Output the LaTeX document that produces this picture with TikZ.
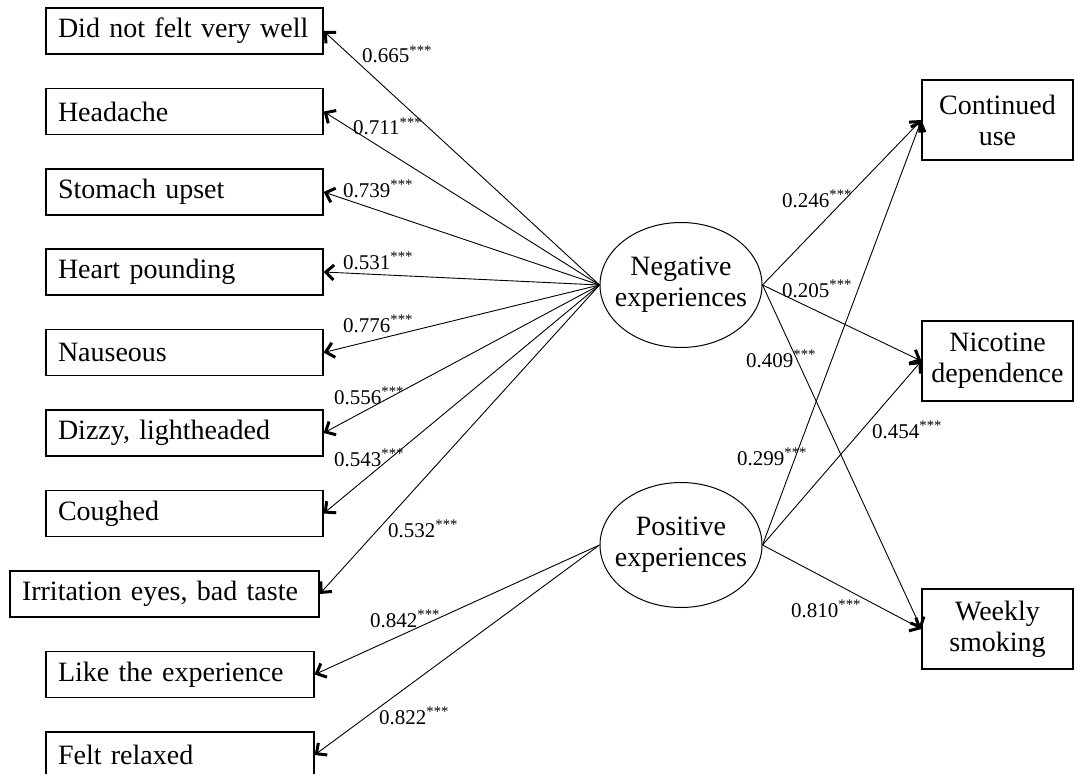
\documentclass[tikz,border=0pt]{standalone}
\usepackage{fontspec}
\setmainfont{Liberation Serif}
\usetikzlibrary{arrows.meta,shapes.geometric}
\tikzset{
  ibox/.style={draw,line width=1.2pt,rectangle,minimum height=46pt,inner xsep=12pt,inner ysep=0pt,
    font=\fontsize{28}{30}\selectfont,align=left},
  obox/.style={draw,line width=1.2pt,rectangle,minimum height=80pt,minimum width=151pt,inner sep=0pt,
    font=\fontsize{28}{31}\selectfont,align=center},
  latent/.style={draw,line width=1pt,ellipse,minimum width=162pt,minimum height=125pt,inner sep=0pt},
  lattext/.style={font=\fontsize{28}{31}\selectfont,align=center,inner sep=0pt},
  coef/.style={anchor=base west,inner sep=0pt,font=\fontsize{21}{22}\selectfont},
  path/.style={line width=0.9pt,-{Straight Barb[length=8pt,width=15pt,line width=3pt,line join=miter]}}
}
\newcommand{\sig}[1]{#1\textsuperscript{***}}
\begin{document}
\begin{tikzpicture}[x=1pt,y=-1pt]
\useasboundingbox (0,0) rectangle (1075,773);
\clip (0,0) rectangle (1075,773);
% indicator boxes
\node[ibox,text width=253pt] (b1) at (184.5,31) {Did not felt very well};
\node[ibox,text width=253pt] (b2) at (184.5,111.5) {Headache};
\node[ibox,text width=253pt] (b3) at (184.5,192) {Stomach upset};
\node[ibox,text width=253pt] (b4) at (184.5,272) {Heart pounding};
\node[ibox,text width=253pt] (b5) at (184.5,352.5) {Nauseous};
\node[ibox,text width=253pt] (b6) at (184.5,433) {Dizzy, lightheaded};
\node[ibox,text width=253pt] (b7) at (184.5,513.5) {Coughed};
\node[ibox,text width=285pt] (b8) at (164.5,594) {Irritation eyes, bad taste};
\node[ibox,text width=244pt] (b9) at (180,674.5) {Like the experience};
\node[ibox,text width=244pt] (b10) at (180,755) {Felt relaxed};
% latent variables
\node[latent] (neg) at (681,285) {};
\node[lattext] (negt) at (neg.center) {Negative\\experiences};
\node[latent] (pos) at (681,545) {};
\node[lattext] (post) at (pos.center) {Positive\\experiences};
% outcomes
\node[obox] (cu) at (997.5,120) {Continued\\use};
\node[obox] (nd) at (997.5,361) {Nicotine\\dependence};
\node[obox] (ws) at (997.5,629) {Weekly\\smoking};
% loadings
\foreach \b in {b1,b2,b3,b4,b5,b6,b7,b8} \draw[path] (neg.west) -- (\b.east);
\foreach \b in {b9,b10} \draw[path] (pos.west) -- (\b.east);
% structural paths
\foreach \o in {cu,nd,ws} {
  \draw[path] (neg.east) -- (\o.west);
  \draw[path] (pos.east) -- (\o.west);
}
% coefficients
\node[coef] (c1) at (362,63) {\sig{0.665}};
\node[coef] (c2) at (353,135) {\sig{0.711}};
\node[coef] (c3) at (343,197) {\sig{0.739}};
\node[coef] (c4) at (343,269) {\sig{0.531}};
\node[coef] (c5) at (343,332) {\sig{0.776}};
\node[coef] (c6) at (334,404) {\sig{0.556}};
\node[coef] (c7) at (334,466) {\sig{0.543}};
\node[coef] (c8) at (388,537) {\sig{0.532}};
\node[coef] (c9) at (370,627) {\sig{0.842}};
\node[coef] (c10) at (379,724) {\sig{0.822}};
\node[coef] (r1) at (782,207) {\sig{0.246}};
\node[coef] (r2) at (782,297) {\sig{0.205}};
\node[coef] (r3) at (746,367) {\sig{0.409}};
\node[coef] (r4) at (872,438) {\sig{0.454}};
\node[coef] (r5) at (737,465) {\sig{0.299}};
\node[coef] (r6) at (791,617) {\sig{0.810}};
\end{tikzpicture}
\end{document}
